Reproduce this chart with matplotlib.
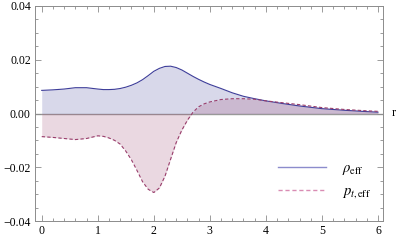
import matplotlib
matplotlib.use("Agg")
import matplotlib.pyplot as plt
from matplotlib.lines import Line2D
from matplotlib.ticker import MultipleLocator

plt.rcParams["font.family"] = ["Liberation Serif", "DejaVu Serif"]
plt.rcParams["mathtext.fontset"] = "stix"

# values
r_vals = [0.0, 0.2, 0.4, 0.6, 0.8, 1.0, 1.1, 1.2, 1.3, 1.4, 1.5, 1.6, 1.7, 1.8, 1.9, 2.0,
          2.1, 2.2, 2.3, 2.4, 2.5, 2.6, 2.7, 2.8, 2.9, 3.0, 3.2, 3.4, 3.6, 3.8, 4.0,
          4.3, 4.6, 5.0, 5.4, 5.8, 6.0]
rho_eff = [0.0086, 0.0088, 0.0091, 0.0096, 0.0096, 0.0091, 0.0089, 0.0089, 0.0090, 0.0093,
           0.0098, 0.0105, 0.0114, 0.0126, 0.0141, 0.0157, 0.0168, 0.0175, 0.0176, 0.0171,
           0.0162, 0.0150, 0.0138, 0.0127, 0.0117, 0.0108, 0.0093, 0.0077, 0.0064, 0.0055,
           0.0047, 0.0037, 0.0028, 0.0018, 0.0012, 0.0007, 0.0005]
p_eff = [-0.0086, -0.0089, -0.0093, -0.0097, -0.0093, -0.0083, -0.0085, -0.0091, -0.0100,
         -0.0114, -0.0140, -0.0172, -0.0212, -0.0254, -0.0282, -0.0294, -0.0277, -0.0233,
         -0.0170, -0.0108, -0.0062, -0.0025, 0.0005, 0.0025, 0.0036, 0.0043, 0.0052, 0.0055,
         0.0055, 0.0053, 0.0047, 0.0040, 0.0033, 0.0022, 0.0015, 0.0010, 0.0008]

x_ticks = [0, 1, 2, 3, 4, 5, 6]
y_ticks = [-0.04, -0.02, 0.00, 0.02, 0.04]
y_labels = ["\u22120.04", "\u22120.02", "0.00", "0.02", "0.04"]

blue = (0.24, 0.24, 0.6)
purple = (0.6, 0.24, 0.42)
frame_col = "#8c8c8c"

fig = plt.figure(figsize=(3.99, 2.42), dpi=100)
ax = fig.add_axes([35 / 399, 21 / 242, 348 / 399, 215 / 242])

ax.axhline(0, color="#999999", lw=1.0, zorder=1)
ax.fill_between(r_vals, rho_eff, 0, color=blue, alpha=0.2, lw=0, zorder=2)
ax.fill_between(r_vals, p_eff, 0, color=purple, alpha=0.2, lw=0, zorder=2)
ax.plot(r_vals, rho_eff, color=blue, lw=0.8, zorder=3)
ax.plot(r_vals, p_eff, color=purple, lw=0.8, ls=(0, (3, 2)), zorder=3)

ax.set_xlim(-0.12, 6.09)
ax.set_ylim(-0.04, 0.04)
ax.set_xticks(x_ticks)
ax.set_yticks(y_ticks)
ax.set_yticklabels(y_labels)
ax.xaxis.set_minor_locator(MultipleLocator(0.2))
ax.yaxis.set_minor_locator(MultipleLocator(0.005))
ax.tick_params(which="both", direction="in", top=True, right=True, color=frame_col,
               labelsize=8.5, width=0.6)
ax.tick_params(which="major", length=4, pad=3)
ax.tick_params(which="minor", length=2)
for s in ax.spines.values():
    s.set_color(frame_col)
    s.set_linewidth(0.7)

ax.text(1.025, 0.5, "r", transform=ax.transAxes, fontsize=9, va="center", ha="left")

handles = [Line2D([], [], color=(0.55, 0.55, 0.8), lw=1.0),
           Line2D([], [], color=(0.85, 0.55, 0.7), lw=1.0, ls=(0, (3, 2)))]
ax.legend(handles, [r"$\rho_{\rm eff}$", r"$p_{t,{\rm eff}}$"], loc="upper left",
          bbox_to_anchor=(0.66, 0.335), frameon=False, fontsize=10.5, handlelength=3.3,
          handletextpad=1.1, labelspacing=0.5)

fig.savefig("out.png", dpi=100)
